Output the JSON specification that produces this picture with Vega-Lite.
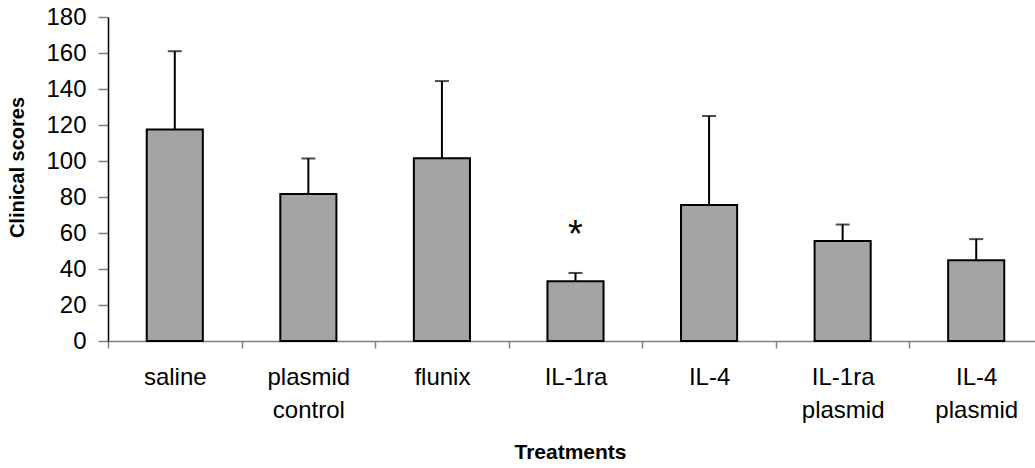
{
  "$schema": "https://vega.github.io/schema/vega-lite/v6.json",
  "width": 935,
  "height": 324,
  "autosize": {"type": "none"},
  "padding": {"left": 108, "top": 17, "right": 0, "bottom": 127},
  "background": "white",
  "config": {
    "view": {"stroke": null},
    "font": "Liberation Sans",
    "axisY": {
      "titleFontSize": 20,
      "titleFontWeight": "bold",
      "titleColor": "black",
      "titleX": -91,
      "titleY": 150,
      "titleAngle": -90,
      "titleAlign": "center",
      "titleBaseline": "middle",
      "tickCount": 10,
      "labelOverlap": false,
      "grid": false,
      "labelFontSize": 24,
      "labelColor": "black",
      "labelPadding": 12,
      "tickSize": 10,
      "tickColor": "#808080",
      "tickWidth": 1.5,
      "domainColor": "black",
      "domainWidth": 1.5
    }
  },
  "data": {
    "values": [
      {"treatment": "saline", "score": 117.5, "upper": 161},
      {"treatment": "plasmid control", "score": 81.6, "upper": 101.4},
      {"treatment": "flunix", "score": 101.5, "upper": 144.4},
      {"treatment": "IL-1ra", "score": 33.2, "upper": 37.8, "star": 52},
      {"treatment": "IL-4", "score": 75.6, "upper": 125},
      {"treatment": "IL-1ra plasmid", "score": 55.6, "upper": 64.7},
      {"treatment": "IL-4 plasmid", "score": 44.9, "upper": 56.6}
    ]
  },
  "encoding": {
    "x": {
      "field": "treatment",
      "type": "nominal",
      "sort": null,
      "scale": {"paddingInner": 0, "paddingOuter": 0},
      "axis": {
        "title": "Treatments",
        "titleFont": "Liberation Sans",
        "titleFontSize": 21,
        "titleFontWeight": "bold",
        "titleColor": "black",
        "titleY": 117,
        "titleX": 462,
        "titleBaseline": "alphabetic",
        "labelAngle": 0,
        "labelFontSize": 24,
        "labelColor": "black",
        "labelPadding": 17,
        "labelLineHeight": 33,
        "labelExpr": "split(datum.label, ' ')",
        "tickBand": "extent",
        "tickSize": 7,
        "tickColor": "#808080",
        "domainColor": "#808080",
        "domainWidth": 1.5,
        "tickWidth": 1.5
      }
    }
  },
  "layer": [
    {
      "mark": {"type": "bar", "width": {"band": 0.42}, "fill": "#a4a4a4", "stroke": "black", "strokeWidth": 2},
      "encoding": {
        "y": {
          "field": "score",
          "type": "quantitative",
          "title": "Clinical scores",
          "scale": {"domain": [0, 180], "nice": false}
        }
      }
    },
    {
      "mark": {"type": "rule", "stroke": "black", "strokeWidth": 2},
      "encoding": {
        "y": {"field": "score", "type": "quantitative", "title": "Clinical scores"},
        "y2": {"field": "upper"}
      }
    },
    {
      "mark": {"type": "tick", "color": "black", "size": 14, "thickness": 2, "orient": "horizontal"},
      "encoding": {
        "y": {"field": "upper", "type": "quantitative", "title": "Clinical scores"}
      }
    },
    {
      "mark": {"type": "text", "text": "*", "fontSize": 38, "baseline": "alphabetic", "align": "center", "color": "black"},
      "encoding": {
        "y": {"field": "star", "type": "quantitative", "title": "Clinical scores"}
      }
    }
  ]
}
